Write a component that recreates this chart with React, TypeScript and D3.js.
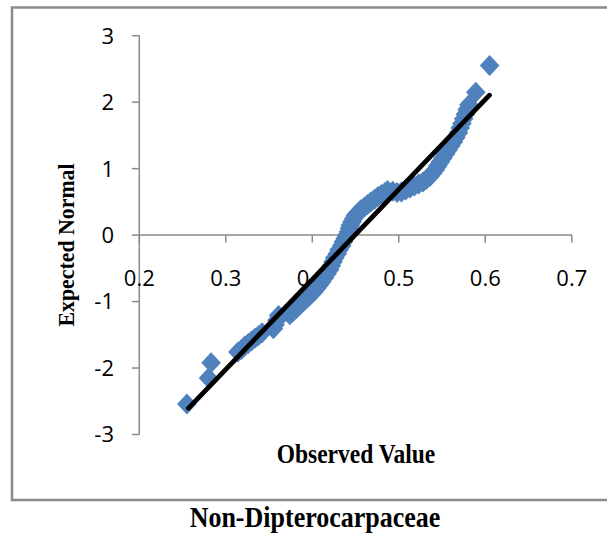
import React from "react";
import * as d3 from "d3";

const observed: number[] = [
  0.255, 0.280, 0.283,
  0.314, 0.318, 0.322, 0.326, 0.330, 0.334, 0.338, 0.342,
  0.355, 0.357, 0.359, 0.361,
  0.374, 0.378, 0.382, 0.386, 0.390, 0.394, 0.398, 0.402, 0.405, 0.408,
  0.411, 0.414, 0.417, 0.420, 0.422, 0.424, 0.426, 0.429, 0.431, 0.434,
  0.436, 0.438, 0.440, 0.442, 0.443, 0.444, 0.446, 0.448, 0.450, 0.453,
  0.456, 0.460, 0.464, 0.468, 0.472, 0.476, 0.480, 0.484, 0.487,
  0.493, 0.498, 0.503, 0.508, 0.513, 0.518, 0.523, 0.528, 0.532, 0.536,
  0.539, 0.542, 0.545, 0.548, 0.551, 0.554, 0.557, 0.560, 0.563, 0.566,
  0.569, 0.571, 0.573, 0.575, 0.577, 0.579, 0.581,
  0.589, 0.605,
];

const expected: number[] = [
  -2.54, -2.15, -1.92,
  -1.76, -1.72, -1.67, -1.63, -1.59, -1.55, -1.51, -1.47,
  -1.41, -1.35, -1.28, -1.21,
  -1.20, -1.15, -1.10, -1.05, -1.00, -0.95, -0.90, -0.85, -0.80, -0.75,
  -0.70, -0.64, -0.58, -0.52, -0.46, -0.40, -0.34, -0.28, -0.22, -0.16,
  -0.10, -0.05, 0.00, 0.05, 0.10, 0.15, 0.20, 0.25, 0.30, 0.34,
  0.38, 0.42, 0.46, 0.50, 0.54, 0.58, 0.61, 0.64, 0.67,
  0.66, 0.64, 0.65, 0.68, 0.71, 0.74, 0.77, 0.80, 0.84, 0.88,
  0.93, 0.98, 1.04, 1.10, 1.16, 1.22, 1.28, 1.34, 1.40, 1.47,
  1.54, 1.61, 1.68, 1.75, 1.82, 1.89, 1.96,
  2.15, 2.55,
];

const trendX: number[] = [0.2567, 0.6048];
const trendY: number[] = [-2.606, 2.105];

const xTicks: number[] = [0.2, 0.3, 0.4, 0.5, 0.6, 0.7];
const yTicks: number[] = [-3, -2, -1, 0, 1, 2, 3];

const xTitle = "Observed Value";
const yTitle = "Expected Normal";
const chartTitle = "Non-Dipterocarpaceae";

export default function App() {
  const x = d3.scaleLinear().domain([0.2, 0.7]).range([139.3, 571.8]);
  const y = d3.scaleLinear().domain([-3, 3]).range([434.5, 35.7]);
  const axisColor = "#8a8a8a";
  const tickFont = "'Open Sans', 'Liberation Sans', sans-serif";
  const titleFont = "'Liberation Serif', 'Times New Roman', serif";
  const diamond = "M0,-10.5L9.8,0L0,10.5L-9.8,0Z";
  const line = d3
    .line<number>()
    .x((_, i) => x(trendX[i]))
    .y((_, i) => y(trendY[i]));

  return (
    <svg
      width={607}
      height={533}
      style={{ position: "absolute", left: 0, top: 0, background: "#fff" }}
    >
      <rect x={0} y={0} width={607} height={533} fill="#fff" />
      <rect
        x={12}
        y={7.5}
        width={620}
        height={492.5}
        fill="none"
        stroke={axisColor}
        strokeWidth={2.5}
      />
      {/* y axis */}
      <line x1={x(0.2)} x2={x(0.2)} y1={y(3)} y2={y(-3)} stroke={axisColor} strokeWidth={1.5} />
      {yTicks.map((t) => (
        <g key={"y" + t}>
          <line x1={x(0.2) - 7.5} x2={x(0.2)} y1={y(t)} y2={y(t)} stroke={axisColor} strokeWidth={1.5} />
          <text
            x={114}
            y={y(t)}
            dy="0.36em"
            textAnchor="end"
            fontFamily={tickFont}
            fontSize={22}
            fill="#000"
          >
            {String(t)}
          </text>
        </g>
      ))}
      {/* x axis at y=0 */}
      <line x1={x(0.2)} x2={x(0.7)} y1={y(0)} y2={y(0)} stroke={axisColor} strokeWidth={1.5} />
      {xTicks.map((t) => (
        <g key={"x" + t}>
          <line x1={x(t)} x2={x(t)} y1={y(0)} y2={y(0) + 7.5} stroke={axisColor} strokeWidth={1.5} />
          <text
            x={x(t)}
            y={286}
            textAnchor="middle"
            fontFamily={tickFont}
            fontSize={22}
            fill="#000"
          >
            {t.toFixed(1)}
          </text>
        </g>
      ))}
      {/* points */}
      {observed.map((v, i) => (
        <path
          key={"p" + i}
          d={diamond}
          transform={`translate(${x(v)},${y(expected[i])})`}
          fill="#4f81bd"
        />
      ))}
      {/* trend line */}
      <path
        d={line(trendX) || ""}
        fill="none"
        stroke="#000"
        strokeWidth={4.8}
        strokeLinecap="round"
      />
      {/* titles */}
      <text
        transform={`translate(74,245) rotate(-90) scale(1.04,1.1)`}
        textAnchor="middle"
        fontFamily={titleFont}
        fontWeight="bold"
        fontSize={21}
        fill="#000"
      >
        {yTitle}
      </text>
      <text
        transform={`translate(356,462.5) scale(1,1.15)`}
        textAnchor="middle"
        fontFamily={titleFont}
        fontWeight="bold"
        fontSize={23.5}
        fill="#000"
      >
        {xTitle}
      </text>
      <text
        transform={`translate(315,527) scale(1,1.12)`}
        textAnchor="middle"
        fontFamily={titleFont}
        fontWeight="bold"
        fontSize={26}
        fill="#000"
      >
        {chartTitle}
      </text>
    </svg>
  );
}
